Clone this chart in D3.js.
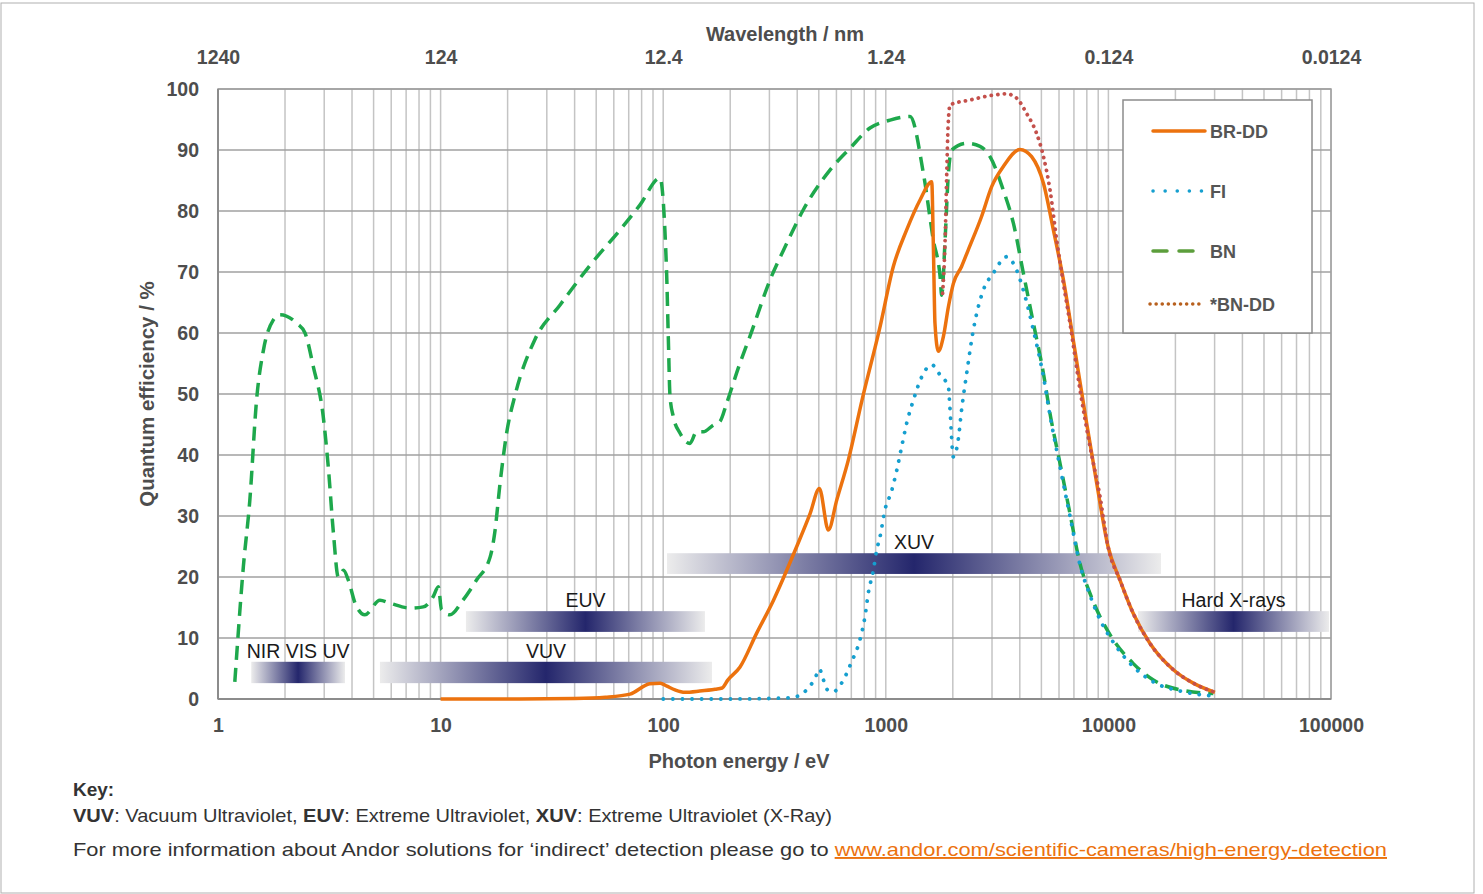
<!DOCTYPE html>
<html><head><meta charset="utf-8">
<script src="https://cdn.jsdelivr.net/npm/d3@7"></script>
<style>
html,body{margin:0;padding:0;background:#fff;}
svg{display:block;font-family:"Liberation Sans",Arial,Helvetica,sans-serif;}
</style></head>
<body>
<svg id="chart" width="1483" height="894"></svg>
<script>
// ---- data ----
const energyTicks = [1, 10, 100, 1000, 10000, 100000];
const wavelengthLabels = ["1240", "124", "12.4", "1.24", "0.124", "0.0124"];
const qeTicks = [0, 10, 20, 30, 40, 50, 60, 70, 80, 90, 100];

const seriesNames = ["BR-DD", "FI", "BN", "*BN-DD"];

const brdd = [[10,0],[20,0],[40,0.1],[55,0.3],[71,0.8],[87,2.5],[97,2.6],[104,2.1],[113,1.5],[125,1.1],[146,1.3],[171,1.6],[184,1.8],[195,3.1],[221,5.2],[263,10.8],[313,16.2],[359,21.1],[398,25],[457,30.4],[503,34.5],[552,27.7],[602,32.6],[679,39.2],[782,49],[942,61],[1081,70.9],[1241,76.9],[1425,81.8],[1608,84.8],[1636,74.1],[1663,61.6],[1722,57],[1814,59.4],[1911,64.3],[2011,68.1],[2190,70.9],[2345,73.6],[2693,79.1],[2990,84],[3374,87.3],[4008,90.1],[4520,88.9],[5110,84.5],[5660,76.9],[6280,68.7],[6950,58.9],[7985,45.2],[8850,35.5],[9960,25],[11270,19.5],[12940,14],[15380,9.1],[19580,4.8],[24060,2.6],[30100,1.1]];

const fi = [[100,0],[200,0],[371,0.2],[398,0.4],[441,1.5],[481,3.4],[503,4.9],[525,3.1],[547,1.5],[581,1.2],[633,2.6],[702,6.1],[765,9.7],[806,13.5],[834,17.3],[879,21.1],[910,24.4],[942,26.6],[991,31],[1060,34],[1120,37.5],[1179,41.4],[1241,45.2],[1330,49],[1450,52.8],[1608,54.8],[1754,53.1],[1911,51.2],[1940,47.9],[2011,39.7],[2115,42.5],[2190,47.4],[2309,53.4],[2473,60.5],[2740,67],[3040,69.8],[3490,72.5],[3870,70.3],[4150,67],[4600,60.5],[5110,52.8],[5466,46.5],[6065,38],[6720,30],[7454,22],[8267,17],[9170,13],[10520,9.3],[12940,5.3],[15920,2.8],[20990,1.3],[29600,0.5]];

const bn = [[1.19,2.8],[1.30,21.7],[1.39,32.6],[1.49,49],[1.60,57.2],[1.77,62.1],[1.90,63],[2.26,61.6],[2.46,60],[2.68,54.5],[2.97,46.3],[3.13,38],[3.30,27.2],[3.47,20],[3.66,21.1],[3.85,19.5],[4.13,15.7],[4.57,13.8],[5.34,16.2],[5.93,15.7],[7.29,14.9],[8.36,15.1],[9.27,16.8],[9.77,18.4],[10.1,14.6],[11.0,13.8],[12.6,16.2],[14.5,19.5],[16.7,23.3],[17.5,27.2],[18.5,35.4],[19.8,43.6],[21.6,49.8],[26.5,58.9],[34.4,64.6],[46.9,71.1],[64,76.9],[78.7,81],[96.7,85.4],[103.5,70.3],[105.4,59.4],[107.3,49.6],[111,46.3],[118.9,43.6],[131.8,41.9],[141.3,43.8],[151.4,43.8],[167.9,44.9],[179.9,45.5],[192.8,48.5],[221,55],[245,59.4],[302,68.7],[359,74.7],[426,80.2],[561,86.7],[691,90.3],[849,93.6],[1045,94.9],[1285,95.5],[1475,86.2],[1636,75.2],[1754,69.2],[1783,66.2],[1846,75.2],[1911,86.2],[1978,90],[2309,91.1],[2650,90.6],[2939,88.9],[3374,83.4],[3742,78],[4150,69.8],[4603,61.6],[5105,53.4],[5466,46.8],[6065,38.6],[6720,30.4],[7454,22.2],[8267,17.3],[9170,13.5],[10520,9.7],[12940,5.8],[15920,3.1],[20990,1.5],[29600,0.9]];

const bndd = [[1800,66.5],[1846,75],[1878,86],[1905,94],[1945,97.4],[2390,98.2],[3040,99],[3490,99.2],[3870,98.5],[4290,96],[4760,92.7],[5110,88.9],[5470,83.4],[5860,75.2],[6280,68.1],[6720,61.6],[7454,50.7],[8267,41.4],[9170,33.2],[9960,25],[11270,19.5],[12940,14],[15380,9.1],[19580,4.8],[24060,2.6],[30100,1.1]];

const bandNames = ["NIR VIS UV", "VUV", "EUV", "XUV", "Hard X-rays"];
const bandStart = [1.41, 5.34, 13, 104, 13580];
const bandEnd = [3.72, 165.7, 154, 17230, 98000];
const bandLow = [2.6, 2.6, 11, 20.5, 11];
const bandHigh = [6.1, 6.1, 14.4, 23.9, 14.4];

// ---- layout ----
const svg = d3.select("#chart");
const L = 218, R = 1331, T = 89, B = 699;
const x = d3.scaleLog().domain([1, 100000]).range([L, R]);
const y = d3.scaleLinear().domain([0, 100]).range([B, T]);
const textCol = "#4d4d4d";

svg.append("rect").attr("x", 1).attr("y", 3).attr("width", 1473).attr("height", 890)
  .attr("fill", "none").attr("stroke", "#b0b0b0").attr("stroke-width", 1);

// grid
const minor = [];
for (let d = 0; d < 5; d++) for (let k = 1; k <= 9; k++) minor.push(k * Math.pow(10, d));
minor.push(100000);
svg.append("g").selectAll("line").data(minor).join("line")
  .attr("x1", d => x(d)).attr("x2", d => x(d)).attr("y1", T).attr("y2", B)
  .attr("stroke", "#c4c4c4").attr("stroke-width", 1.5);
svg.append("g").selectAll("line").data(qeTicks).join("line")
  .attr("x1", L).attr("x2", R).attr("y1", d => y(d)).attr("y2", d => y(d))
  .attr("stroke", "#a0a0a0").attr("stroke-width", 1.5);
svg.append("rect").attr("x", L).attr("y", T).attr("width", R - L).attr("height", B - T)
  .attr("fill", "none").attr("stroke", "#a0a0a0").attr("stroke-width", 1.5);
svg.append("line").attr("x1", L).attr("x2", L).attr("y1", T).attr("y2", B).attr("stroke", "#8c8c8c").attr("stroke-width", 2);
svg.append("line").attr("x1", L).attr("x2", R).attr("y1", B).attr("y2", B).attr("stroke", "#8c8c8c").attr("stroke-width", 2);

// axes via d3
const fmtE = d3.format("d");
const bottomAxis = d3.axisBottom(x).tickValues(energyTicks).tickFormat(d => fmtE(d)).tickSize(0).tickPadding(19);
const gB = svg.append("g").attr("transform", `translate(0,${B})`).call(bottomAxis);
const topAxis = d3.axisTop(x).tickValues(energyTicks).tickFormat((d, i) => wavelengthLabels[i]).tickSize(0).tickPadding(25);
const gT = svg.append("g").attr("transform", `translate(0,${T})`).call(topAxis);
const leftAxis = d3.axisLeft(y).tickValues(qeTicks).tickSize(0).tickPadding(19);
const gL = svg.append("g").attr("transform", `translate(${L},0)`).call(leftAxis);
[gB, gT, gL].forEach(g => {
  g.select(".domain").remove();
  g.selectAll("text").attr("font-family", "Liberation Sans, Arial, sans-serif")
    .attr("font-size", 19.5).attr("font-weight", "bold").attr("fill", textCol);
});

// axis titles
svg.append("text").attr("x", 785).attr("y", 41).attr("text-anchor", "middle")
  .attr("font-size", 20).attr("font-weight", "bold").attr("fill", textCol).text("Wavelength / nm");
svg.append("text").attr("x", 739).attr("y", 768).attr("text-anchor", "middle")
  .attr("font-size", 20).attr("font-weight", "bold").attr("fill", textCol).text("Photon energy / eV");
svg.append("text").attr("transform", "translate(154,394) rotate(-90)").attr("text-anchor", "middle")
  .attr("font-size", 20.5).attr("font-weight", "bold").attr("fill", textCol).text("Quantum efficiency / %");

// bands
const defs = svg.append("defs");
const grad = defs.append("linearGradient").attr("id", "bandGrad");
grad.append("stop").attr("offset", "0%").attr("stop-color", "#ececec");
grad.append("stop").attr("offset", "50%").attr("stop-color", "#24266c");
grad.append("stop").attr("offset", "100%").attr("stop-color", "#ececec");
const bands = bandNames.map((n, i) => ({ n, s: bandStart[i], e: bandEnd[i], lo: bandLow[i], hi: bandHigh[i] }));
const gBand = svg.append("g");
gBand.selectAll("rect").data(bands).join("rect")
  .attr("x", d => x(d.s)).attr("width", d => x(d.e) - x(d.s))
  .attr("y", d => y(d.hi)).attr("height", d => y(d.lo) - y(d.hi))
  .attr("fill", "url(#bandGrad)");
gBand.selectAll("text").data(bands).join("text")
  .attr("x", d => (x(d.s) + x(d.e)) / 2).attr("y", d => y(d.hi) - 4)
  .attr("text-anchor", "middle").attr("font-size", 19.5).attr("fill", "#1a1a1a")
  .text(d => d.n);

// lines
const line = d3.line().x(d => x(d[0])).y(d => y(d[1])).curve(d3.curveMonotoneX);
const clip = defs.append("clipPath").attr("id", "clip");
clip.append("rect").attr("x", L).attr("y", T - 5).attr("width", R - L).attr("height", B - T + 10);
const gLines = svg.append("g").attr("clip-path", "url(#clip)");
gLines.append("path").datum(bn).attr("d", line).attr("fill", "none")
  .attr("stroke", "#1ea84c").attr("stroke-width", 3.5).attr("stroke-dasharray", "14,8");
gLines.append("path").datum(fi).attr("d", line).attr("fill", "none")
  .attr("stroke", "#159fcf").attr("stroke-width", 3.8).attr("stroke-linecap", "round").attr("stroke-dasharray", "0.1,9.5");
gLines.append("path").datum(brdd).attr("d", line).attr("fill", "none")
  .attr("stroke", "#ec720e").attr("stroke-width", 3.5).attr("stroke-linejoin", "round");
gLines.append("path").datum(bndd).attr("d", line).attr("fill", "none")
  .attr("stroke", "#c4504b").attr("stroke-width", 3.8).attr("stroke-linecap", "round").attr("stroke-dasharray", "0.1,6.5");

// legend
const lg = svg.append("g");
lg.append("rect").attr("x", 1123).attr("y", 100).attr("width", 189).attr("height", 233)
  .attr("fill", "#fff").attr("stroke", "#8c8c8c").attr("stroke-width", 1.5);
const legY = [131, 191, 251, 304];
const legStyle = [
  { c: "#ec720e", da: null, cap: "round", x1: 1153, x2: 1205 },
  { c: "#159fcf", da: "0.1,12", cap: "round", x1: 1153, x2: 1203 },
  { c: "#5c9e3c", da: "14,12", cap: "round", x1: 1153, x2: 1197 },
  { c: "#b8601e", da: "0.1,6", cap: "round", x1: 1150, x2: 1202 }
];
seriesNames.forEach((n, i) => {
  const s = legStyle[i];
  lg.append("line").attr("x1", s.x1).attr("x2", s.x2).attr("y1", legY[i]).attr("y2", legY[i])
    .attr("stroke", s.c).attr("stroke-width", 3.5).attr("stroke-linecap", s.cap)
    .attr("stroke-dasharray", s.da);
  lg.append("text").attr("x", 1210).attr("y", legY[i] + 6.5).attr("font-size", 18)
    .attr("font-weight", "bold").attr("fill", "#555").text(n);
});

// key
svg.append("text").attr("x", 73).attr("y", 796).attr("font-size", 19).attr("font-weight", "bold")
  .attr("fill", "#333").text("Key:");
const k2 = svg.append("text").attr("x", 73).attr("y", 822).attr("font-size", 19).attr("fill", "#333")
  .attr("textLength", 759).attr("lengthAdjust", "spacingAndGlyphs");
[["VUV", true], [": Vacuum Ultraviolet, ", false], ["EUV", true], [": Extreme Ultraviolet, ", false], ["XUV", true], [": Extreme Ultraviolet (X-Ray)", false]]
  .forEach(p => k2.append("tspan").attr("font-weight", p[1] ? "bold" : "normal").text(p[0]));
const k3 = svg.append("text").attr("x", 73).attr("y", 856).attr("font-size", 19).attr("fill", "#333")
  .attr("textLength", 1314).attr("lengthAdjust", "spacingAndGlyphs");
k3.append("tspan").text("For more information about Andor solutions for \u2018indirect\u2019 detection please go to ");
k3.append("tspan").attr("fill", "#ec720e").attr("text-decoration", "underline")
  .text("www.andor.com/scientific-cameras/high-energy-detection");
</script>
</body></html>
